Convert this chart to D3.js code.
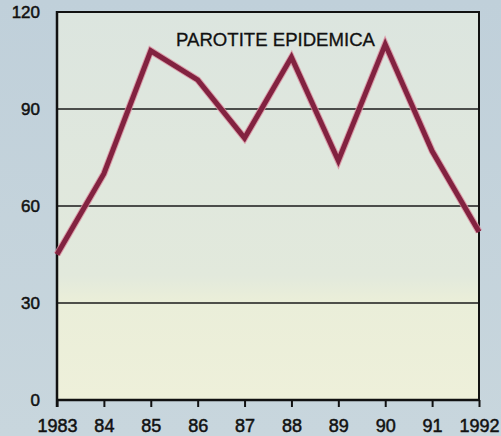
<!DOCTYPE html>
<html><head><meta charset="utf-8">
<script src="https://cdn.jsdelivr.net/npm/d3@7"></script>
<style>html,body{margin:0;padding:0;background:#c5d4dc;}svg{display:block;}</style>
</head><body>
<script>
const years = [1983,1984,1985,1986,1987,1988,1989,1990,1991,1992];
const yearLabels = ["1983","84","85","86","87","88","89","90","91","1992"];
const cases = [45,70,108,99,81,106,74,110,77,52];
const yTicks = [0,30,60,90,120];
const title = "PAROTITE EPIDEMICA";

const W=501,H=436;
const m={l:57,r:22,t:12,b:36};
const FONT="Liberation Sans, Arial, sans-serif";
const svg=d3.select("body").append("svg").attr("width",W).attr("height",H);
const defs=svg.append("defs");
const bg=defs.append("linearGradient").attr("id","bg").attr("x1",0).attr("y1",0).attr("x2",0).attr("y2",1);
bg.append("stop").attr("offset","0%").attr("stop-color","#c0d0da");
bg.append("stop").attr("offset","100%").attr("stop-color","#c8d6dd");
const pg=defs.append("linearGradient").attr("id","pg").attr("x1",0).attr("y1",0).attr("x2",0).attr("y2",1);
pg.append("stop").attr("offset","0%").attr("stop-color","#dce5df");
pg.append("stop").attr("offset","68%").attr("stop-color","#e2e9dc");
pg.append("stop").attr("offset","74%").attr("stop-color","#eaeed9");
pg.append("stop").attr("offset","100%").attr("stop-color","#eef0da");
svg.append("rect").attr("width",W).attr("height",H).attr("fill","url(#bg)");

const x=d3.scaleLinear().domain([1983,1992]).range([m.l,W-m.r]);
const y=d3.scaleLinear().domain([0,120]).range([H-m.b,m.t]);

svg.append("rect").attr("x",x(1983)).attr("y",y(120)).attr("width",x(1992)-x(1983)).attr("height",y(0)-y(120)).attr("fill","url(#pg)");

// gridlines
svg.append("g").selectAll("line").data(yTicks.filter(d=>d>0&&d<120)).join("line")
  .attr("x1",x(1983)).attr("x2",x(1992)).attr("y1",d=>y(d)).attr("y2",d=>y(d))
  .attr("stroke","#1a1a1a").attr("stroke-width",1.6);

// y labels
svg.append("g").selectAll("text").data(yTicks).join("text")
  .attr("x",40).attr("y",d=>y(d)).attr("dy","0.36em").attr("text-anchor","end")
  .attr("font-family",FONT).attr("font-size",17).attr("fill","#111")
  .attr("stroke","#111").attr("stroke-width",0.5)
  .text(d=>d);

// x axis
const xAxis=d3.axisBottom(x).tickValues(years).tickFormat((d,i)=>yearLabels[i]).tickSize(7).tickPadding(12);
const gx=svg.append("g").attr("transform",`translate(0,${y(0)})`).call(xAxis);
gx.select(".domain").remove();
gx.selectAll(".tick line").attr("stroke","#111").attr("stroke-width",2);
gx.selectAll(".tick text").attr("font-family",FONT).attr("font-size",18).attr("fill","#111")
  .attr("stroke","#111").attr("stroke-width",0.5);

// frame
svg.append("line").attr("x1",x(1983)-1).attr("x2",x(1992)+1).attr("y1",y(0)).attr("y2",y(0)).attr("stroke","#111").attr("stroke-width",2.5);
svg.append("line").attr("x1",x(1983)).attr("x2",x(1983)).attr("y1",y(120)-1).attr("y2",y(0)+7).attr("stroke","#111").attr("stroke-width",2.5);
svg.append("line").attr("x1",x(1992)).attr("x2",x(1992)).attr("y1",y(120)-1).attr("y2",y(0)).attr("stroke","#111").attr("stroke-width",2);
svg.append("line").attr("x1",x(1983)).attr("x2",x(1992)).attr("y1",y(120)).attr("y2",y(120)).attr("stroke","#111").attr("stroke-width",2);

// title
svg.append("text").attr("x",176).attr("y",46)
  .attr("font-family",FONT).attr("font-size",18).attr("fill","#111")
  .attr("stroke","#111").attr("stroke-width",0.3)
  .attr("textLength",199).attr("lengthAdjust","spacingAndGlyphs")
  .text(title);

// line
const line=d3.line().x((d,i)=>x(years[i])).y(d=>y(d));
svg.append("path").datum(cases).attr("d",line).attr("fill","none")
  .attr("stroke","#d98a9c").attr("stroke-width",7).attr("stroke-linejoin","miter").attr("opacity",0.8);
svg.append("path").datum(cases).attr("d",line).attr("fill","none")
  .attr("stroke","#822240").attr("stroke-width",5).attr("stroke-linejoin","miter");
</script>
</body></html>
